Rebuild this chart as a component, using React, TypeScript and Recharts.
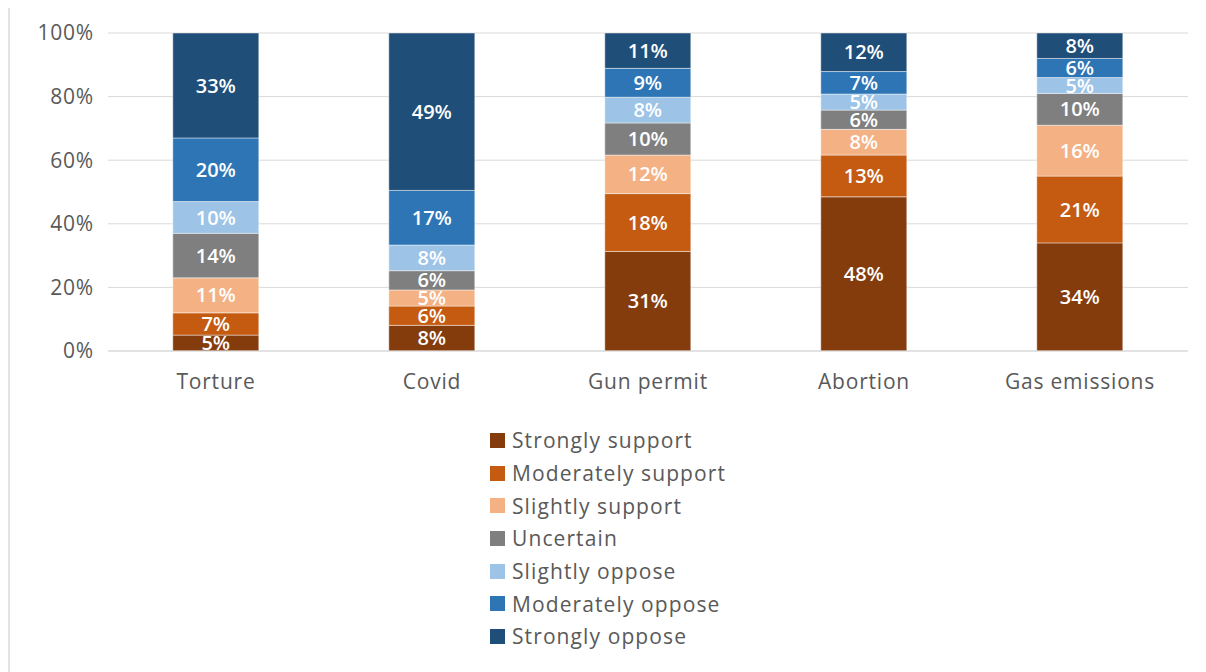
import { BarChart, Bar, XAxis, YAxis, CartesianGrid, Legend, LabelList } from "recharts";

const TOPICS = ["Torture", "Covid", "Gun permit", "Abortion", "Gas emissions"];

const STRONGLY_SUPPORT = [5, 8, 31, 48, 34];
const MODERATELY_SUPPORT = [7, 6, 18, 13, 21];
const SLIGHTLY_SUPPORT = [11, 5, 12, 8, 16];
const UNCERTAIN = [14, 6, 10, 6, 10];
const SLIGHTLY_OPPOSE = [10, 8, 8, 5, 5];
const MODERATELY_OPPOSE = [20, 17, 9, 7, 6];
const STRONGLY_OPPOSE = [33, 49, 11, 12, 8];

const Y_TICKS = [0, 0.2, 0.4, 0.6, 0.8, 1];

const SERIES = [
  { key: "stronglySupport", name: "Strongly support", values: STRONGLY_SUPPORT, color: "#843C0C" },
  { key: "moderatelySupport", name: "Moderately support", values: MODERATELY_SUPPORT, color: "#C55A11" },
  { key: "slightlySupport", name: "Slightly support", values: SLIGHTLY_SUPPORT, color: "#F4B183" },
  { key: "uncertain", name: "Uncertain", values: UNCERTAIN, color: "#7F7F7F" },
  { key: "slightlyOppose", name: "Slightly oppose", values: SLIGHTLY_OPPOSE, color: "#9DC3E6" },
  { key: "moderatelyOppose", name: "Moderately oppose", values: MODERATELY_OPPOSE, color: "#2E75B6" },
  { key: "stronglyOppose", name: "Strongly oppose", values: STRONGLY_OPPOSE, color: "#1F4E79" },
];

const data = TOPICS.map((topic, i) => {
  const row: Record<string, string | number> = { topic };
  SERIES.forEach((s) => {
    row[s.key] = s.values[i];
  });
  return row;
});

const FONT = "'Open Sans', 'Noto Sans', sans-serif";

function LegendList() {
  return (
    <div style={{ fontFamily: FONT, fontSize: 21, letterSpacing: 1.1, color: "#595959" }}>
      {SERIES.map((s) => (
        <div key={s.key} style={{ display: "flex", alignItems: "center", height: 32.7 }}>
          <span style={{ width: 15, height: 15, backgroundColor: s.color, marginRight: 7, display: "inline-block" }} />
          {s.name}
        </div>
      ))}
    </div>
  );
}

export default function App() {
  return (
    <div
      style={{
        width: 1210,
        height: 680,
        marginTop: -2,
        borderLeft: "2px solid #e4e4e4",
        borderTop: "2px solid #e4e4e4",
        boxSizing: "border-box",
        overflow: "hidden",
        background: "#fff",
      }}
    >
      <BarChart
        width={1197}
        height={665}
        data={data}
        stackOffset="expand"
        barCategoryGap="30%"
        margin={{ top: 25, right: 19, left: 38, bottom: 292 }}
      >
        <CartesianGrid vertical={false} stroke="#d9d9d9" />
        <XAxis
          dataKey="topic"
          tickLine={false}
          axisLine={{ stroke: "#d9d9d9" }}
          tickMargin={17}
          tick={{ fontSize: 21, fill: "#595959", fontFamily: FONT, letterSpacing: 0.8 }}
        />
        <YAxis
          width={60}
          domain={[0, 1]}
          ticks={Y_TICKS}
          tickFormatter={(v: number) => `${Math.round(v * 100)}%`}
          tickLine={false}
          axisLine={false}
          tickMargin={8}
          tick={{ fontSize: 21, fill: "#595959", fontFamily: FONT, letterSpacing: 0.8 }}
        />
        <Legend
          layout="vertical"
          align="center"
          verticalAlign="middle"
          wrapperStyle={{ top: 416, left: 480, width: 320 }}
          content={() => <LegendList />}
        />
        {SERIES.map((s) => (
          <Bar
            key={s.key}
            dataKey={s.key}
            name={s.name}
            stackId="a"
            fill={s.color}
            stroke="rgba(255,255,255,0.45)"
            strokeWidth={1}
            isAnimationActive={false}
          >
            <LabelList
              dataKey={s.key}
              position="center"
              formatter={(v: number) => `${v}%`}
              fill="#ffffff"
              style={{ fontSize: 20, fontWeight: 600, fontFamily: FONT }}
            />
          </Bar>
        ))}
      </BarChart>
    </div>
  );
}
